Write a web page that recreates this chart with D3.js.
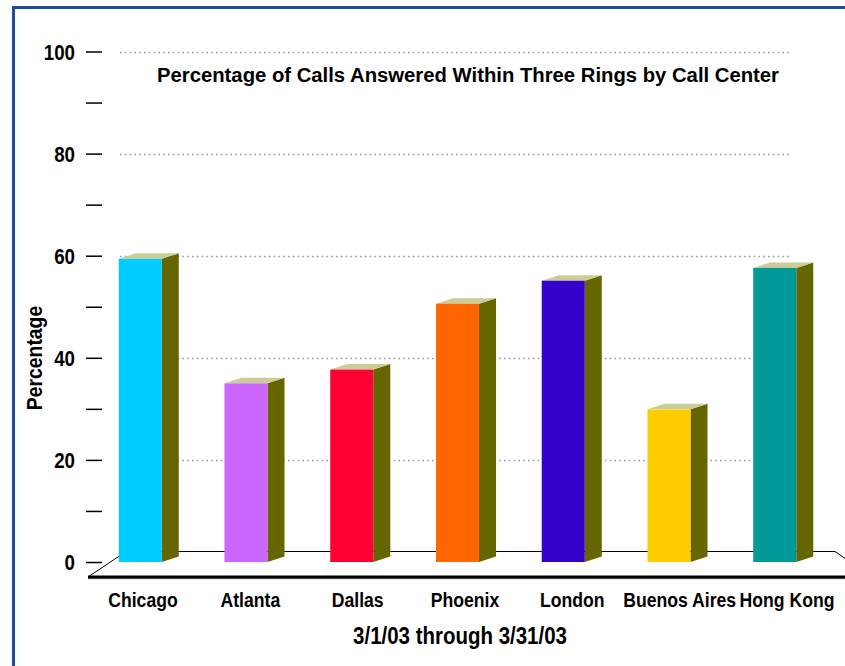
<!DOCTYPE html>
<html>
<head>
<meta charset="utf-8">
<script src="https://cdn.jsdelivr.net/npm/d3@7"></script>
<style>
  html, body { margin: 0; padding: 0; background: #fff; }
  svg { display: block; }
  text { font-family: "Liberation Sans", Arial, sans-serif; font-weight: bold; fill: #000; }
</style>
</head>
<body>
<svg id="chart" width="845" height="666"></svg>
<script>
// ---- data ----
const categories = ["Chicago", "Atlanta", "Dallas", "Phoenix", "London", "Buenos Aires", "Hong Kong"];
const values = [59.4, 35.0, 37.7, 50.6, 55.1, 29.9, 57.6];
const barColors = ["#00CCFF", "#CC66FF", "#FF0033", "#FF6600", "#3300CC", "#FFCC00", "#009999"];
const majorTicks = [0, 20, 40, 60, 80, 100];
const minorTicks = [10, 30, 50, 70, 90];
const gridTicks = [20, 40, 60, 80, 100];
const title = "Percentage of Calls Answered Within Three Rings by Call Center";
const yTitle = "Percentage";
const xTitle = "3/1/03 through 3/31/03";

// ---- drawing ----
const svg = d3.select("#chart");
const W = 845, H = 666;
const sideColor = "#666600", topColor = "#CCCC99";
const dx = 17, dy = 5.5;

const y = d3.scaleLinear().domain([0, 100]).range([562, 51.5]);
const x = d3.scaleBand().domain(categories).range([87, 828]).paddingInner(0.593).paddingOuter(0.3);
const xl = d3.scalePoint().domain(categories).range([143, 787]);

function label(parent, tx, ty, str, anchor, rot, fs, sx) {
  const g = parent.append("g")
    .attr("transform", `translate(${tx},${ty})` + (rot ? ` rotate(${rot})` : "") + ` scale(${sx || 0.85},1)`);
  return g.append("text").attr("text-anchor", anchor || "middle").attr("font-size", fs || 21).text(str);
}

// border
svg.append("rect").attr("x", 13.5).attr("y", 7.5).attr("width", W + 20).attr("height", H + 20)
  .attr("fill", "none").attr("stroke", "#1f4b9b").attr("stroke-width", 3);

// gridlines
svg.append("g").selectAll("line").data(gridTicks).join("line")
  .attr("x1", 120).attr("x2", 790)
  .attr("y1", d => Math.round(y(d)) + 0.5).attr("y2", d => Math.round(y(d)) + 0.5)
  .attr("stroke", "#9a9a9a").attr("stroke-width", 1.5).attr("stroke-dasharray", "1.6,3.2");

// floor
const backY = 551.5, frontY = 577;
svg.append("path")
  .attr("d", `M88,${frontY} L126,${backY} L835,${backY} L872,${frontY}`)
  .attr("fill", "none").attr("stroke", "#000").attr("stroke-width", 1);
svg.append("line").attr("x1", 88).attr("x2", W).attr("y1", frontY + 1.5).attr("y2", frontY + 1.5)
  .attr("stroke", "#999").attr("stroke-width", 1.5);
svg.append("line").attr("x1", 88).attr("x2", W).attr("y1", frontY).attr("y2", frontY)
  .attr("stroke", "#000").attr("stroke-width", 3);

// y axis ticks (lines from d3 axis, labels condensed)
const yAxis = d3.axisLeft(y).tickValues(majorTicks.concat(minorTicks)).tickSize(16).tickFormat("");
const ga = svg.append("g").attr("transform", "translate(102,0)").call(yAxis);
ga.select(".domain").remove();
ga.selectAll(".tick line").attr("stroke", "#000").attr("stroke-width", 1.5);
const gyl = svg.append("g");
majorTicks.forEach(t => label(gyl, 75, y(t) + 8, String(t), "end", 0, 22, 0.85));

// bars
const bars = svg.append("g").selectAll("g").data(categories).join("g");
bars.append("path") // side
  .attr("d", (c, i) => {
    const x1 = x(c) + x.bandwidth(), y0 = y(0), yt = y(values[i]);
    return `M${x1},${y0} L${x1 + dx},${y0 - dy} L${x1 + dx},${yt - dy} L${x1},${yt} Z`;
  })
  .attr("fill", sideColor);
bars.append("path") // top
  .attr("d", (c, i) => {
    const x0 = x(c), x1 = x0 + x.bandwidth(), yt = y(values[i]);
    return `M${x0},${yt} L${x0 + dx},${yt - dy} L${x1 + dx},${yt - dy} L${x1},${yt} Z`;
  })
  .attr("fill", topColor);
bars.append("rect") // front
  .attr("x", c => x(c)).attr("width", x.bandwidth())
  .attr("y", (c, i) => y(values[i])).attr("height", (c, i) => y(0) - y(values[i]))
  .attr("fill", (c, i) => barColors[i]);

// category labels
const gcl = svg.append("g");
categories.forEach(c => label(gcl, xl(c), 607, c, "middle", 0, 21, 0.84));

// titles
svg.append("text").attr("x", 468).attr("y", 82).attr("text-anchor", "middle")
  .attr("font-size", 20).attr("textLength", 622).attr("lengthAdjust", "spacingAndGlyphs").text(title);
label(svg, 42, 358, yTitle, "middle", -90, 22, 0.88);
label(svg, 460, 644, xTitle, "middle", 0, 23, 0.89);
</script>
</body>
</html>
